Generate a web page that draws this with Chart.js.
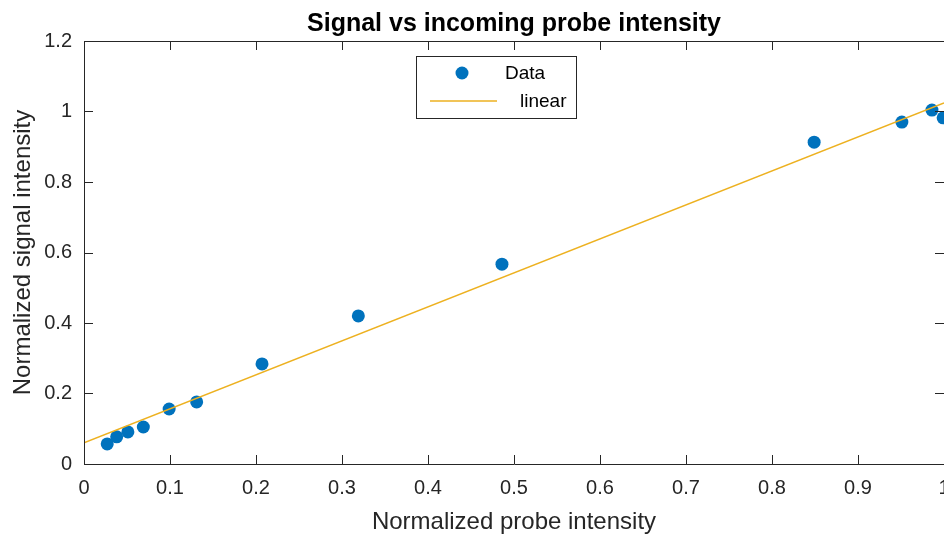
<!DOCTYPE html>
<html>
<head>
<meta charset="utf-8">
<title>Signal vs incoming probe intensity</title>
<script src="https://cdn.jsdelivr.net/npm/chart.js@4.4.1/dist/chart.umd.min.js"></script>
<style>
    html, body { margin: 0; padding: 0; background: #fff; overflow: hidden; }
    #wrap { width: 944px; height: 534px; overflow: hidden; }
</style>
</head>
<body>
<div id="wrap"><canvas id="signalChart" width="1028" height="534"></canvas></div>
<script>
// Measured points
const probeIntensity = [0.027, 0.038, 0.051, 0.069, 0.099, 0.131, 0.207, 0.319, 0.486, 0.849, 0.951, 0.986, 0.999];
const signalIntensity = [0.057, 0.077, 0.091, 0.105, 0.156, 0.176, 0.284, 0.420, 0.567, 0.913, 0.970, 1.004, 0.982];

// Linear fit (end points)
const fitX = [0, 1];
const fitY = [0.06, 1.024];

// Axis ticks
const xTicks = [0, 0.1, 0.2, 0.3, 0.4, 0.5, 0.6, 0.7, 0.8, 0.9, 1];
const xTickLabels = ['0', '0.1', '0.2', '0.3', '0.4', '0.5', '0.6', '0.7', '0.8', '0.9', '1'];
const yTicks = [0, 0.2, 0.4, 0.6, 0.8, 1, 1.2];
const yTickLabels = ['0', '0.2', '0.4', '0.6', '0.8', '1', '1.2'];

const seriesNames = ['Data', 'linear'];
const chartTitle = 'Signal vs incoming probe intensity';

const FONT = "'Liberation Sans', Arial, Helvetica, sans-serif";
const BLUE = '#0072BD';
const GOLD = '#EDB120';
const AXIS = '#262626';

// MATLAB-style box with inward ticks, title over the axes, legend box
const matlabAxes = {
    id: 'matlabAxes',
    afterDraw(chart) {
        const ctx = chart.ctx;
        const a = chart.chartArea;
        const xs = chart.scales.x;
        const ys = chart.scales.y;
        const tick = 9;
        ctx.save();
        ctx.strokeStyle = AXIS;
        ctx.lineWidth = 1;
        ctx.beginPath();
        ctx.rect(Math.round(a.left) + 0.5, Math.round(a.top) + 0.5,
                 Math.round(a.right - a.left), Math.round(a.bottom - a.top));
        xTicks.forEach(v => {
            const px = Math.round(xs.getPixelForValue(v)) + 0.5;
            ctx.moveTo(px, a.bottom);
            ctx.lineTo(px, a.bottom - tick);
            ctx.moveTo(px, a.top);
            ctx.lineTo(px, a.top + tick);
        });
        yTicks.forEach(v => {
            const py = Math.round(ys.getPixelForValue(v)) + 0.5;
            ctx.moveTo(a.left, py);
            ctx.lineTo(a.left + tick, py);
            ctx.moveTo(a.right, py);
            ctx.lineTo(a.right - tick, py);
        });
        ctx.stroke();

        // title, centred on the axes
        ctx.fillStyle = '#000';
        ctx.font = 'bold 25px ' + FONT;
        ctx.textAlign = 'center';
        ctx.textBaseline = 'alphabetic';
        ctx.fillText(chartTitle, (a.left + a.right) / 2, 31);

        // legend
        const lx = 416.5, ly = 56.5, lw = 160, lh = 62;
        ctx.fillStyle = '#fff';
        ctx.fillRect(lx, ly, lw, lh);
        ctx.strokeRect(lx, ly, lw, lh);

        ctx.fillStyle = BLUE;
        ctx.beginPath();
        ctx.arc(462, 73, 6.5, 0, Math.PI * 2);
        ctx.fill();

        ctx.strokeStyle = GOLD;
        ctx.lineWidth = 1.5;
        ctx.beginPath();
        ctx.moveTo(430, 101);
        ctx.lineTo(497, 101);
        ctx.stroke();

        ctx.fillStyle = '#000';
        ctx.font = '19px ' + FONT;
        ctx.textBaseline = 'middle';
        ctx.textAlign = 'left';
        ctx.fillText(seriesNames[0], 505, 74);
        ctx.fillText(seriesNames[1], 520, 102);
        ctx.restore();
    }
};

const ctx = document.getElementById('signalChart').getContext('2d');
const chart = new Chart(ctx, {
    type: 'scatter',
    data: {
        datasets: [
            {
                label: seriesNames[0],
                data: probeIntensity.map((x, i) => ({ x: x, y: signalIntensity[i] })),
                backgroundColor: BLUE,
                borderWidth: 0,
                pointRadius: 6.5,
                pointHoverRadius: 6.5,
                order: 1
            },
            {
                type: 'line',
                label: seriesNames[1],
                data: fitX.map((x, i) => ({ x: x, y: fitY[i] })),
                borderColor: GOLD,
                borderWidth: 1.5,
                pointRadius: 0,
                fill: false,
                order: 0
            }
        ]
    },
    options: {
        responsive: false,
        animation: false,
        devicePixelRatio: 1,
        layout: { padding: { left: 0, right: 84, top: 41, bottom: 0 } },
        plugins: {
            legend: { display: false },
            tooltip: { enabled: false },
            title: { display: false }
        },
        scales: {
            x: {
                type: 'linear',
                min: 0,
                max: 1,
                afterBuildTicks: s => { s.ticks = xTicks.map(v => ({ value: v })); },
                afterFit: s => { s.height = 70; },
                grid: { display: false, drawTicks: false },
                border: { display: false },
                ticks: {
                    color: AXIS,
                    padding: 12,
                    maxRotation: 0,
                    autoSkip: false,
                    font: { family: FONT, size: 20 },
                    callback: (v) => xTickLabels[xTicks.indexOf(v)]
                },
                title: {
                    display: true,
                    text: 'Normalized probe intensity',
                    color: AXIS,
                    font: { family: FONT, size: 24, lineHeight: 1 },
                    padding: { top: 0, bottom: 0 }
                }
            },
            y: {
                type: 'linear',
                min: 0,
                max: 1.2,
                afterBuildTicks: s => { s.ticks = yTicks.map(v => ({ value: v })); },
                afterFit: s => { s.width = 84; },
                grid: { display: false, drawTicks: false },
                border: { display: false },
                ticks: {
                    color: AXIS,
                    padding: 12,
                    autoSkip: false,
                    font: { family: FONT, size: 20 },
                    callback: (v) => yTickLabels[yTicks.indexOf(v)]
                },
                title: {
                    display: true,
                    text: 'Normalized signal intensity',
                    color: AXIS,
                    font: { family: FONT, size: 24, lineHeight: 1 },
                    padding: { top: 11, bottom: 0 }
                }
            }
        }
    },
    plugins: [matlabAxes]
});
</script>
</body>
</html>
